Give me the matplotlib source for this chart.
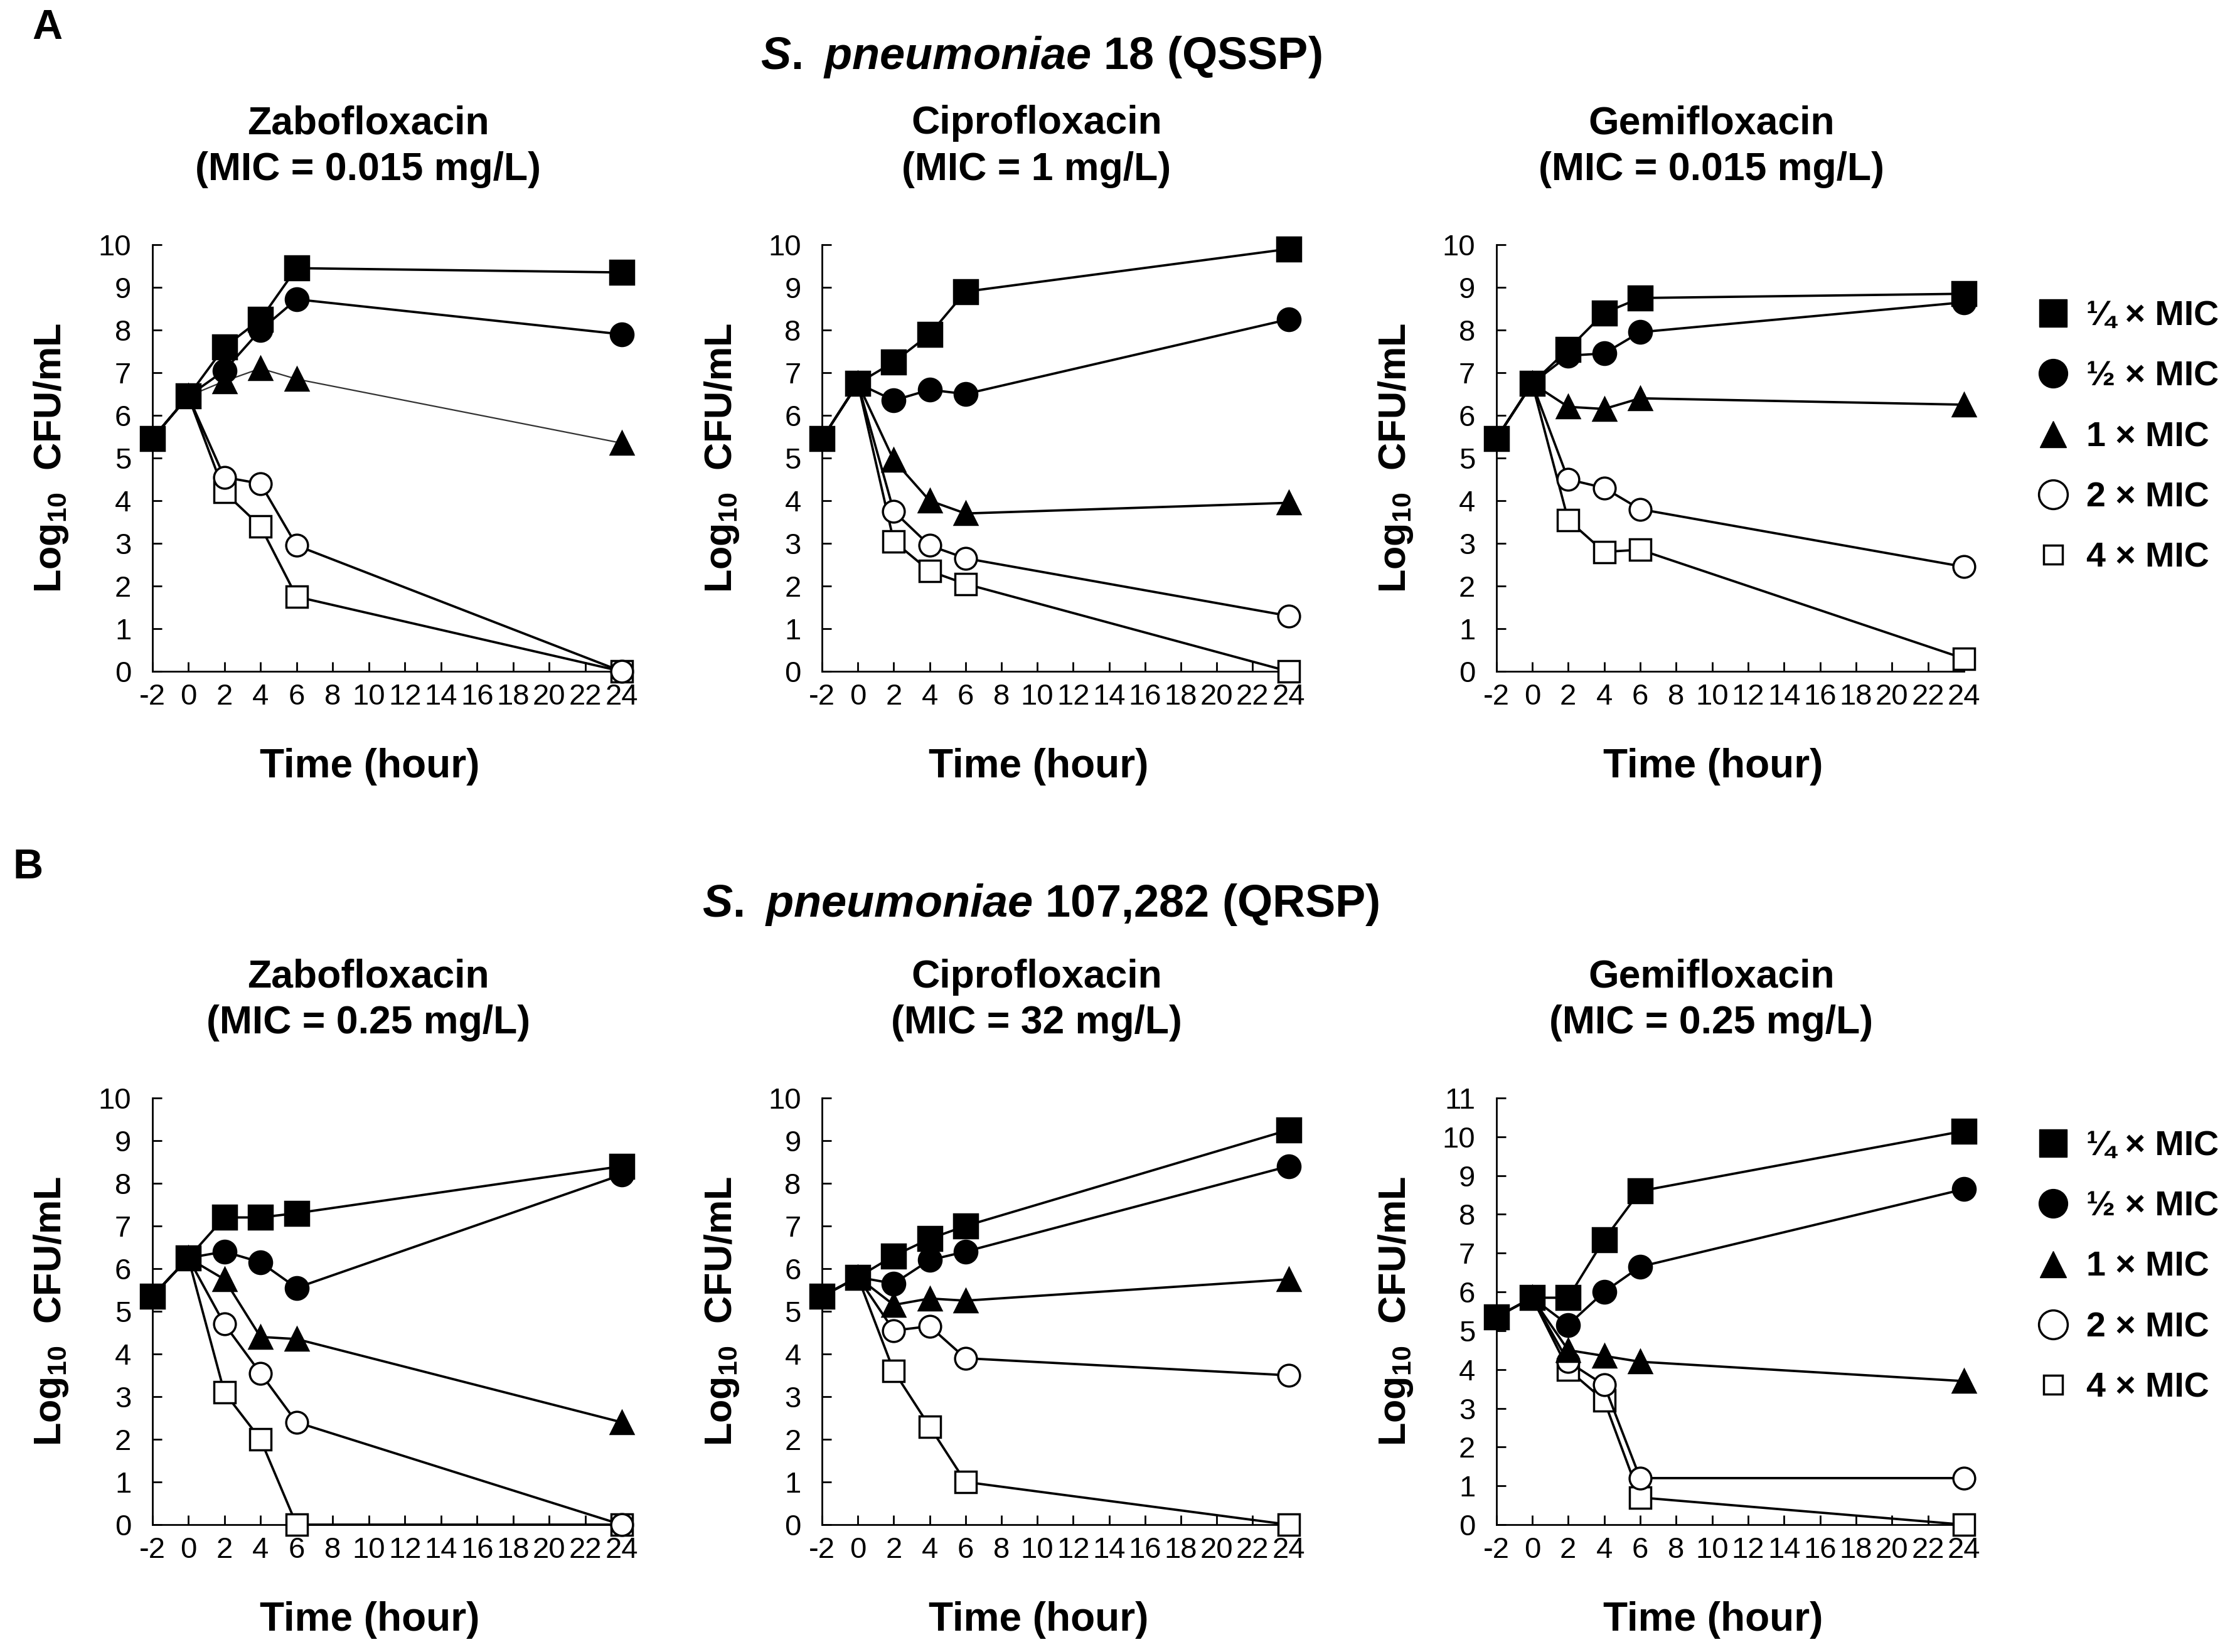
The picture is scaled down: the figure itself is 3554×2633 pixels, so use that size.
import matplotlib
matplotlib.use('Agg')
import matplotlib.pyplot as plt
from matplotlib.lines import Line2D

plt.rcParams['font.family'] = ['Liberation Sans', 'DejaVu Sans']
plt.rcParams['axes.unicode_minus'] = False
plt.rcParams['mathtext.fontset'] = 'custom'
plt.rcParams['mathtext.rm'] = 'Liberation Sans:bold'
plt.rcParams['mathtext.it'] = 'Liberation Sans:bold:italic'
plt.rcParams['mathtext.bf'] = 'Liberation Sans:bold'

# Datos: Log10 UFC/mL por tiempo (h)
hours = [-2, 0, 2, 4, 6, 24]
series_labels = ['¼ × MIC', '½ × MIC', '1 × MIC', '2 × MIC', '4 × MIC']

# S. pneumoniae 18 (QSSP) -- filas: 1/4, 1/2, 1, 2, 4 x MIC
zabo_18 = [
    [5.45, 6.45, 7.60, 8.25, 9.45, 9.35],
    [5.45, 6.45, 7.05, 8.00, 8.72, 7.90],
    [5.45, 6.45, 6.80, 7.10, 6.85, 5.35],
    [5.45, 6.45, 4.55, 4.40, 2.95, 0.00],
    [5.45, 6.45, 4.20, 3.40, 1.75, 0.00],
]
cipro_18 = [
    [5.45, 6.75, 7.25, 7.90, 8.90, 9.90],
    [5.45, 6.75, 6.35, 6.60, 6.50, 8.25],
    [5.45, 6.75, 4.95, 4.00, 3.70, 3.95],
    [5.45, 6.75, 3.75, 2.95, 2.65, 1.30],
    [5.45, 6.75, 3.05, 2.35, 2.05, 0.00],
]
gemi_18 = [
    [5.45, 6.75, 7.55, 8.40, 8.75, 8.85],
    [5.45, 6.75, 7.40, 7.45, 7.95, 8.65],
    [5.45, 6.75, 6.20, 6.15, 6.40, 6.25],
    [5.45, 6.75, 4.50, 4.30, 3.80, 2.45],
    [5.45, 6.75, 3.55, 2.80, 2.85, 0.30],
]

# S. pneumoniae 107,282 (QRSP)
zabo_107 = [
    [5.35, 6.25, 7.20, 7.20, 7.30, 8.40],
    [5.35, 6.25, 6.40, 6.15, 5.55, 8.20],
    [5.35, 6.25, 5.75, 4.40, 4.35, 2.40],
    [5.35, 6.25, 4.70, 3.55, 2.40, 0.00],
    [5.35, 6.25, 3.10, 2.00, 0.00, 0.00],
]
cipro_107 = [
    [5.35, 5.80, 6.30, 6.70, 7.00, 9.25],
    [5.35, 5.80, 5.65, 6.20, 6.40, 8.40],
    [5.35, 5.80, 5.15, 5.30, 5.25, 5.75],
    [5.35, 5.80, 4.55, 4.65, 3.90, 3.50],
    [5.35, 5.80, 3.60, 2.30, 1.00, 0.00],
]
gemi_107 = [
    [5.35, 5.85, 5.85, 7.35, 8.60, 10.15],
    [5.35, 5.85, 5.15, 6.00, 6.65, 8.65],
    [5.35, 5.85, 4.50, 4.35, 4.20, 3.70],
    [5.35, 5.85, 4.20, 3.60, 1.20, 1.20],
    [5.35, 5.85, 4.00, 3.20, 0.70, 0.00],
]

drugs = ['Zabofloxacin', 'Ciprofloxacin', 'Gemifloxacin']
mic_18 = ['(MIC = 0.015 mg/L)', '(MIC = 1 mg/L)', '(MIC = 0.015 mg/L)']
mic_107 = ['(MIC = 0.25 mg/L)', '(MIC = 32 mg/L)', '(MIC = 0.25 mg/L)']

# marcador, relleno, tamano
styles = [('s', 'black', 27), ('o', 'black', 26), ('^', 'black', 26),
          ('o', 'white', 25), ('s', 'white', 25)]

W, H = 3554, 2633
fig = plt.figure(figsize=(W / 100, H / 100), dpi=100)

lefts = [242.5, 1310, 2384.5]
widths = [748, 743.5, 745.5]
row_top = [390, 1750]
ax_h = 680


def draw_panel(ax, data, ymax, thin_tri=False):
    # dibujar de 4x a 1/4x para que los marcadores llenos queden arriba
    for i in range(4, -1, -1):
        m, fc, ms = styles[i]
        lw = 1.6 if (thin_tri and i == 2) else 2.7
        col = '#333333' if (thin_tri and i == 2) else 'black'
        ax.plot(hours, data[i], color=col, lw=lw, marker=m, ms=ms,
                mfc=fc, mec='black', mew=2.5, clip_on=False, zorder=3 + (4 - i))
    ax.set_xlim(-2, 24)
    ax.set_ylim(0, ymax)
    ax.set_xticks(range(-2, 25, 2))
    ax.set_yticks(range(0, ymax + 1))
    ax.spines['top'].set_visible(False)
    ax.spines['right'].set_visible(False)
    ax.spines['left'].set_linewidth(2)
    ax.spines['bottom'].set_linewidth(2)
    ax.tick_params(direction='in', length=11, width=2, labelsize=34)
    ax.tick_params(axis='x', pad=14)
    ax.tick_params(axis='y', pad=24)


panels = [[zabo_18, cipro_18, gemi_18], [zabo_107, cipro_107, gemi_107]]
mics = [mic_18, mic_107]
axes = []
for r in range(2):
    for c in range(3):
        bottom = 1 - (row_top[r] + ax_h) / H
        ax = fig.add_axes([lefts[c] / W, bottom, widths[c] / W, ax_h / H])
        ymax = 11 if (r == 1 and c == 2) else 10
        draw_panel(ax, panels[r][c], ymax, thin_tri=(r == 0 and c == 0))
        ax.set_xlabel('Time (hour)', fontsize=46, fontweight='bold')
        ax.xaxis.set_label_coords(0.464, -0.224)
        ax.xaxis.label.set_va('center')
        ax.set_ylabel('Log$_{10}$  CFU/mL', fontsize=44, fontweight='bold')
        ax.yaxis.set_label_coords(-0.215, 0.5)
        ax.yaxis.label.set_va('center')
        # titulos de cada panel
        ax.text(0.46, 1.0 + (390 - 197) / ax_h, drugs[c],
                transform=ax.transAxes, ha='center', va='center', fontsize=45,
                fontweight='bold')
        ax.text(0.46, 1.0 + (390 - 270) / ax_h, mics[r][c],
                transform=ax.transAxes, ha='center', va='center', fontsize=45,
                fontweight='bold')
        axes.append(ax)

# leyendas
handles = [Line2D([], [], ls='none', marker='s', ms=31, mfc='black', mec='black'),
           Line2D([], [], ls='none', marker='o', ms=33, mfc='black', mec='black'),
           Line2D([], [], ls='none', marker='^', ms=30, mfc='black', mec='black'),
           Line2D([], [], ls='none', marker='o', ms=33, mfc='white', mec='black', mew=2.5),
           Line2D([], [], ls='none', marker='s', ms=22, mfc='white', mec='black', mew=2.5)]
for ax, yc in [(axes[2], (1070 - 697) / ax_h), (axes[5], (2430 - 2020) / ax_h)]:
    ax.legend(handles, series_labels, loc='center left',
              bbox_to_anchor=((3244 - 2384.5) / 745.5, yc),
              frameon=False, prop={'weight': 'bold', 'size': 40},
              handlelength=1.0, handletextpad=0.45, labelspacing=0.8,
              borderpad=0, borderaxespad=0)

# titulos generales
fig.text(75 / W, 1 - 45 / H, 'A', fontsize=48, fontweight='bold', ha='center', va='center')
fig.text(45 / W, 1 - 1383 / H, 'B', fontsize=48, fontweight='bold', ha='center', va='center')
fig.text(1659 / W, 1 - 91 / H, r'$\it{S.}$ $\it{pneumoniae}$ 18 (QSSP)',
         fontsize=52, fontweight='bold', ha='center', va='center')
fig.text(1659 / W, 1 - 1442 / H, r'$\it{S.}$ $\it{pneumoniae}$ 107,282 (QRSP)',
         fontsize=52, fontweight='bold', ha='center', va='center')

plt.savefig('out.png', dpi=100, facecolor='white')
